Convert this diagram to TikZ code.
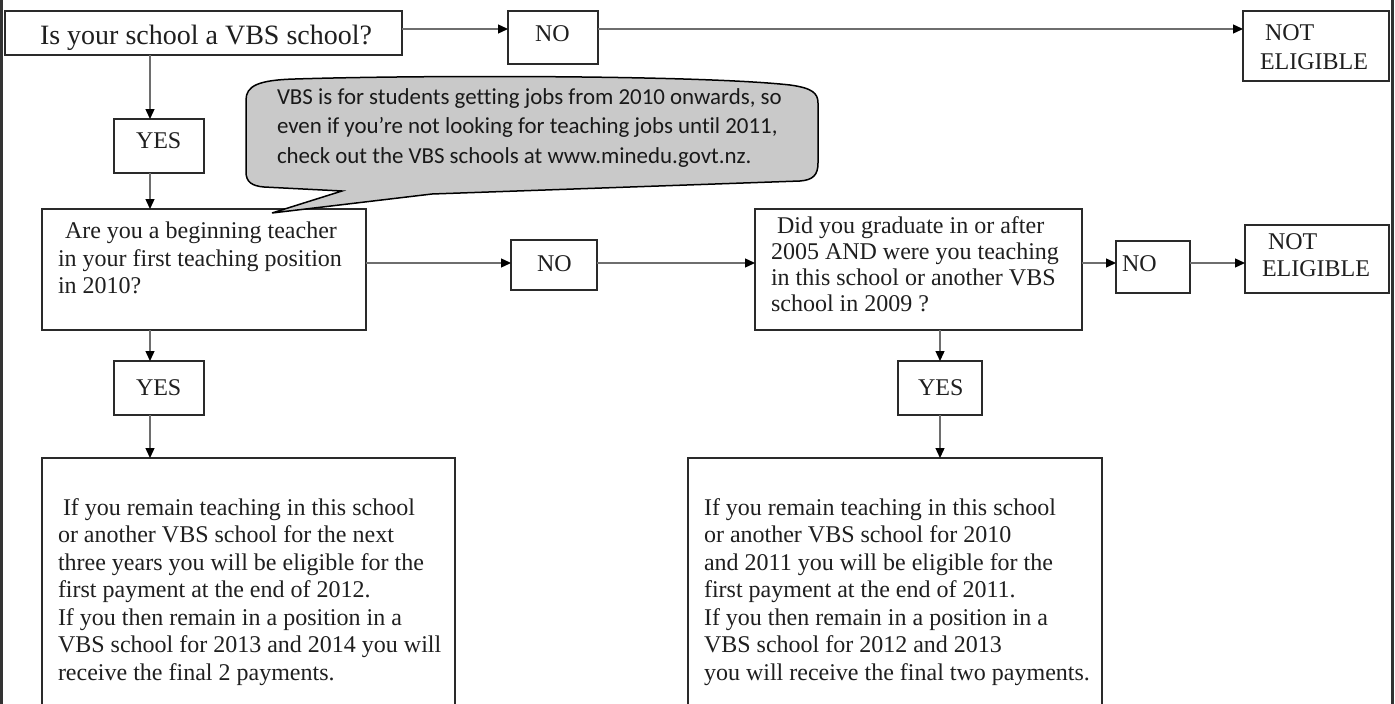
\documentclass[tikz,border=0pt]{standalone}
\usepackage{fontspec}
\setmainfont{Liberation Serif}
\newfontfamily\callfont{Carlito}[Ligatures=NoCommon]
\usetikzlibrary{arrows.meta}
\definecolor{edge}{HTML}{2A2A2A}
\definecolor{conncol}{HTML}{6E6E6E}
\definecolor{callfill}{HTML}{C9C9C9}
\tikzset{
  box/.style={draw=edge, line width=1.3pt, inner sep=0pt, outer sep=0pt, anchor=north west, fill=white},
  txt/.style={anchor=base west, inner sep=0pt, outer sep=0pt, text=black!88, font=\fontsize{24}{27.5}\selectfont},
  bigtxt/.style={txt, font=\fontsize{28}{32}\selectfont},
  conn/.style={draw=conncol, line width=1.3pt, -{Triangle[length=10pt,width=9pt,color=black]}},
  calltxt/.style={anchor=base west, inner sep=0pt, outer sep=0pt, text=black!90, font=\callfont\fontsize{22.9}{27}\selectfont},
  frameline/.style={draw=black!80, line width=2.5pt}
}
\begin{document}
\begin{tikzpicture}[x=1pt,y=-1pt]
\useasboundingbox (0,0) rectangle (1395,704);
\clip (0,0) rectangle (1395,704);
% page frame lines
\draw[frameline] (1.5,0) -- (1.5,704);
\draw[frameline] (1392.5,0) -- (1392.5,704);
% guide coordinates
\coordinate (r1) at (0,29);
\coordinate (r2) at (0,263);
\coordinate (c1) at (150,0);
\coordinate (c3) at (940,0);
% boxes
\node[box, minimum width=397pt, minimum height=44pt] (b1) at (5,11) {};
\node[box, minimum width=90pt, minimum height=53pt] (no1) at (508,11) {};
\node[box, minimum width=146pt, minimum height=70pt] (ne1) at (1243,11) {};
\node[box, minimum width=90pt, minimum height=54pt] (yes1) at (114,119) {};
\node[box, minimum width=324pt, minimum height=121pt] (q2) at (42,209) {};
\node[box, minimum width=86pt, minimum height=50pt] (no2) at (511,240) {};
\node[box, minimum width=327pt, minimum height=121pt] (q3) at (755,209) {};
\node[box, minimum width=74pt, minimum height=52pt] (no3) at (1116,241) {};
\node[box, minimum width=144pt, minimum height=68pt] (ne3) at (1245,225) {};
\node[box, minimum width=90pt, minimum height=54pt] (yes2) at (114,361) {};
\node[box, minimum width=84pt, minimum height=54pt] (yes3) at (898,361) {};
\node[box, minimum width=413pt, minimum height=260pt] (bl) at (42,458) {};
\node[box, minimum width=414pt, minimum height=260pt] (br) at (688,458) {};
% connectors
\draw[conn] (b1.east |- r1) -- (no1.west |- r1);
\draw[conn] (no1.east |- r1) -- (ne1.west |- r1);
\draw[conn] (c1 |- b1.south) -- (c1 |- yes1.north);
\draw[conn] (c1 |- yes1.south) -- (c1 |- q2.north);
\draw[conn] (q2.east |- r2) -- (no2.west |- r2);
\draw[conn] (no2.east |- r2) -- (q3.west |- r2);
\draw[conn] (q3.east |- r2) -- (no3.west |- r2);
\draw[conn] (no3.east |- r2) -- (ne3.west |- r2);
\draw[conn] (c1 |- q2.south) -- (c1 |- yes2.north);
\draw[conn] (c1 |- yes2.south) -- (c1 |- bl.north);
\draw[conn] (c3 |- q3.south) -- (c3 |- yes3.north);
\draw[conn] (c3 |- yes3.south) -- (c3 |- br.north);
% texts
\node[bigtxt] (t-b1) at (40,44) {Is your school a VBS school?};
\node[txt] (t-no1) at (535,41) {NO};
\node[txt] (t-ne1a) at (1265,40) {NOT};
\node[txt] (t-ne1b) at (1260,69) {ELIGIBLE};
\node[txt] (t-yes1) at (136,148) {YES};
\node[txt] (t-q2a) at (65,238) {Are you a beginning teacher};
\node[txt] (t-q2b) at (58,266) {in your first teaching position};
\node[txt] (t-q2c) at (58,293) {in 2010?};
\node[txt] (t-no2) at (537,271) {NO};
\node[txt] (t-q3a) at (777,233) {Did you graduate in or after};
\node[txt] (t-q3b) at (771,259) {2005 AND were you teaching};
\node[txt] (t-q3c) at (771,285) {in this school or another VBS};
\node[txt] (t-q3d) at (771,311) {school in 2009 ?};
\node[txt] (t-no3) at (1122,271) {NO};
\node[txt] (t-ne3a) at (1268,249) {NOT};
\node[txt] (t-ne3b) at (1262,276) {ELIGIBLE};
\node[txt] (t-yes2) at (136,395) {YES};
\node[txt] (t-yes3) at (918,395) {YES};
\node[txt] (t-bl1) at (63,515) {If you remain teaching in this school};
\foreach \s [count=\i from 2] in {{or another VBS school for the next},{three years you will be eligible for the},{first payment at the end of 2012.},{If you then remain in a position in a},{VBS school for 2013 and 2014 you will},{receive the final 2 payments.}}
  \node[txt] (t-bl\i) at (58,515+27.5*\i-27.5) {\s};
\foreach \s [count=\i] in {{If you remain teaching in this school},{or another VBS school for 2010},{and 2011 you will be eligible for the},{first payment at the end of 2011.},{If you then remain in a position in a},{VBS school for 2012 and 2013},{you will receive the final two payments.}}
  \node[txt] (t-br\i) at (704,515+27.5*\i-27.5) {\s};
% callout
\draw[draw=black, line width=1.5pt, fill=callfill, line join=miter]
  (272,213) -- (432,194) -- (800,181)
  .. controls (813,180) and (818,175) .. (818,163) -- (818,103)
  .. controls (818,93) and (812,88) .. (790,85)
  .. controls (700,75) and (420,75) .. (295,79)
  .. controls (258,80) and (246,86) .. (246,100) -- (246,172)
  .. controls (246,182) and (252,186) .. (264,187) -- (342,191) -- cycle;
\node[calltxt] (call1) at (277,104) {VBS is for students getting jobs from 2010 onwards, so};
\node[calltxt] (call2) at (277,133) {even if you’re not looking for teaching jobs until 2011,};
\node[calltxt] (call3) at (277,163) {check out the VBS schools at www.minedu.govt.nz.};
\end{tikzpicture}
\end{document}
